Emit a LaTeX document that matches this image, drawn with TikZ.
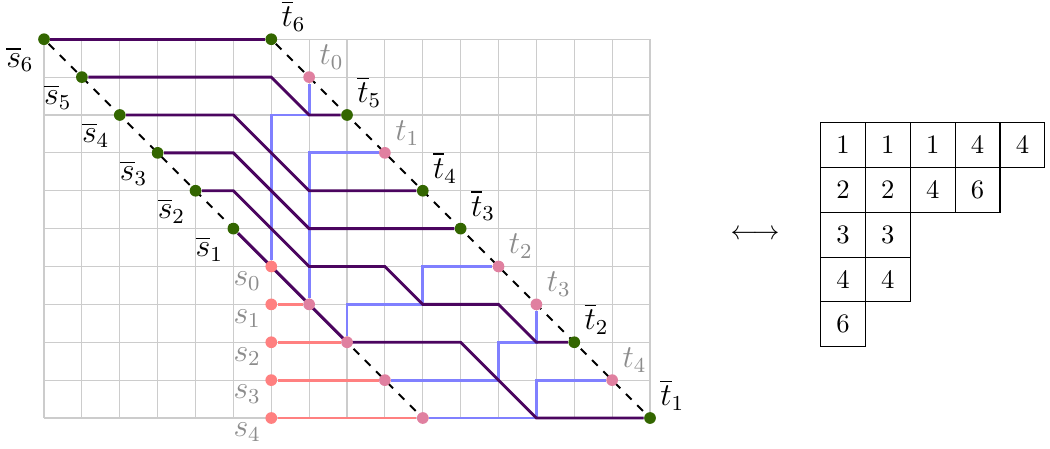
\documentclass[tikz,border=0pt]{standalone}
\usepackage{amsmath}
\usepackage{tikz}
\usetikzlibrary{positioning,backgrounds}

\definecolor{pathpurple}{RGB}{75,5,95}
\definecolor{dotgreen}{RGB}{51,102,0}
\definecolor{dotpink}{RGB}{224,128,160}

\begin{document}
\begin{tikzpicture}[
    x=0.5cm, y=0.5cm,
    gridline/.style={draw=black!20, line width=0.4pt},
    diag/.style={dashed, line width=0.7pt},
    outer/.style={line width=1.1pt, pathpurple},
    inner/.style={line width=1.1pt, blue!50},
    feed/.style={line width=1.1pt, red!50},
    gdot/.style={circle, fill=dotgreen, inner sep=0pt, minimum size=4.4pt},
    pdot/.style={circle, fill=dotpink, inner sep=0pt, minimum size=4.4pt},
    sdot/.style={circle, fill=red!50, inner sep=0pt, minimum size=4.4pt},
    lab/.style={inner sep=2pt, font=\large},
    glab/.style={lab, text=black!45},
    cell/.style={draw, minimum size=0.592cm, inner sep=0pt, anchor=north west}
  ]
  \useasboundingbox (-1.162,-0.818) rectangle (26.56,11.036);

  % ---------- points -------------------------------------------------------
  % outer ends on the two diagonals, inner ends on the column x = 6
  \foreach \i in {1,...,6}{
    \node[gdot] (sb\i) at ({6-\i},{4+\i}) {};
  }
  \foreach \i/\x in {6/6,5/8,4/10,3/11,2/14,1/16}{
    \node[gdot] (tb\i) at (\x,{16-\x}) {};
  }
  \foreach \i/\x in {0/7,1/9,2/12,3/13,4/15}{
    \node[pdot] (t\i) at (\x,{16-\x}) {};
  }
  \foreach \i in {0,...,4}{
    \node[sdot] (s\i) at (6,{4-\i}) {};
  }
  % where the red feeds meet the lower diagonal
  \foreach \i in {1,...,4}{
    \node[pdot] (x\i) at ({6+\i},{4-\i}) {};
  }

  % ---------- labels -------------------------------------------------------
  \foreach \i in {1,...,6}{
    \node[lab, below left=-1pt and 0pt of sb\i] (lsb\i) {$\overline{s}_{\i}$};
    \node[lab, above right=-1pt and 0pt of tb\i] (ltb\i) {$\overline{t}_{\i}$};
  }
  \foreach \i in {0,...,4}{
    \node[glab, below left=-2pt and 0pt of s\i] (ls\i) {$s_{\i}$};
    \node[glab, above right=-1pt and 0pt of t\i] (lt\i) {$t_{\i}$};
  }

  % ---------- paths --------------------------------------------------------
  \begin{pgfonlayer}{background}
    \draw[gridline, step=0.5cm] (0,0) grid (16,10);
    \draw[diag] (sb6) -- (x4);
    \draw[diag] (tb6) -- (tb1);

    \foreach \i in {1,...,4}{
      \draw[feed] (s\i) -- (x\i);
    }

    \draw[inner] (s0) -- ++(0,4) -| (t0);
    \draw[inner] (x1) |- (t1);
    \draw[inner] (x2) -- ++(0,1) -- ++(2,0) |- (t2);
    \draw[inner] (x3) -- ++(3,0) -- ++(0,1) -| (t3);
    \draw[inner] (x4) -- ++(3,0) |- (t4);

    \draw[outer] (sb6) -- (tb6);
    \draw[outer] (sb5) -- ++(5,0) -- ++(1,-1) -- (tb5);
    \draw[outer] (sb4) -- ++(3,0) -- ++(2,-2) -- (tb4);
    \draw[outer] (sb3) -- ++(2,0) -- ++(2,-2) -- (tb3);
    \draw[outer] (sb2) -- ++(1,0) -- ++(2,-2) -- ++(2,0) -- ++(1,-1)
                       -- ++(2,0) -- ++(1,-1) -- (tb2);
    \draw[outer] (sb1) -- ++(3,-3) -- ++(3,0) -- ++(2,-2) -- (tb1);
  \end{pgfonlayer}

  % ---------- tableau ------------------------------------------------------
  \node (arrow) at (18.77,4.83) {$\longleftrightarrow$};
  \foreach \row [count=\r] in {{1,1,1,4,4},{2,2,4,6},{3,3},{4,4},{6}}{
    \foreach \v [count=\c] in \row{
      \node[cell] (c\r\c) at ({20.49+(\c-1)*1.184},{7.815-(\r-1)*1.184}) {$\v$};
    }
  }

\end{tikzpicture}
\end{document}
